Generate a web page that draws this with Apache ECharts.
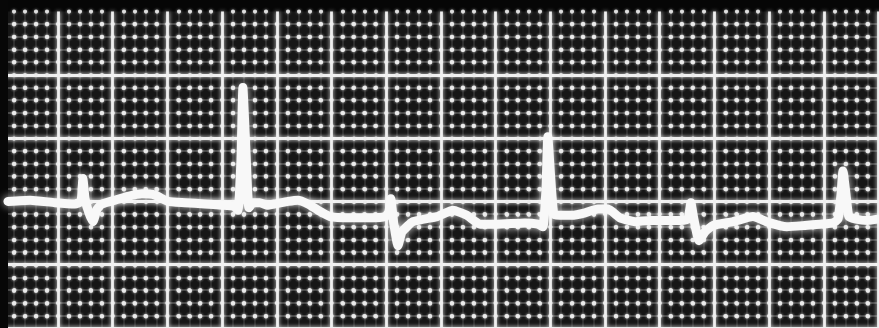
<!DOCTYPE html>
<html><head><meta charset="utf-8">
<script src="https://cdn.jsdelivr.net/npm/echarts@6/dist/echarts.min.js"></script>
<style>html,body{margin:0;padding:0;background:#060606;overflow:hidden}#c{width:879px;height:328px}</style>
</head><body><div id="c"></div>
<script>
// time (ms) — 200 ms per large box
const timeMs = [17,98,189,262,284,291,299,313,328,343,361,408,456,507,555,602,664,737,800,844,858,869,876,887,898,913,938,964,993,1041,1077,1114,1151,1195,1268,1341,1396,1410,1417,1428,1443,1458,1498,1586,1644,1695,1743,1805,1907,1955,1973,1984,1991,2002,2013,2035,2079,2127,2174,2211,2255,2310,2365,2419,2474,2503,2514,2525,2544,2566,2595,2668,2741,2803,2865,2931,2986,3034,3052,3063,3070,3081,3092,3117,3161,3198];
// amplitude (mV) — 0.5 mV per large box
const voltageMv = [1.00,1.01,0.99,0.98,1.00,1.18,1.02,0.91,0.84,0.94,0.98,1.01,1.04,1.06,1.05,1.00,0.99,0.98,0.97,0.96,0.93,1.33,1.90,1.41,0.95,0.99,0.99,0.97,0.98,1.00,1.01,0.98,0.93,0.88,0.87,0.87,0.88,0.92,1.02,0.82,0.65,0.76,0.84,0.88,0.93,0.89,0.82,0.82,0.83,0.82,0.80,1.09,1.51,1.17,0.90,0.89,0.89,0.91,0.94,0.94,0.87,0.84,0.85,0.85,0.85,0.86,0.99,0.86,0.69,0.76,0.81,0.84,0.88,0.83,0.80,0.81,0.82,0.83,0.86,1.06,1.24,1.06,0.88,0.86,0.85,0.86];
const xMin = 0, xMax = 3200, xStep = 200;
const yMin = 0, yMax = 2.5, yStep = 0.5;

const chart = echarts.init(document.getElementById('c'), null, {renderer: 'canvas'});
const hidden = {axisLine:{show:false}, axisTick:{show:false}, axisLabel:{show:false}};
const major = {color:'#efefef', width:2.8, shadowBlur:4, shadowColor:'rgba(255,255,255,0.9)'};
chart.setOption({
  backgroundColor:'#060606',
  animation:false,
  grid:{left:3.3, top:11.5, width:875.2, height:317.5, show:true, backgroundColor:'#161616', borderWidth:0},
  graphic:[{type:'rect', left:0, top:0, shape:{width:8, height:328}, style:{fill:'#070707'}, z:4, silent:true}],
  xAxis:[
    Object.assign({type:'value', min:xMin, max:xMax, interval:xStep, z:3,
      splitLine:{show:true, showMinLine:false, lineStyle:major},
      minorTick:{show:false, splitNumber:5},
      minorSplitLine:{show:true, lineStyle:{color:'rgba(235,235,235,0.9)', width:4.2, type:[0.1,12.6], dashOffset:0, cap:'round', shadowBlur:3, shadowColor:'rgba(255,255,255,0.6)'}}
    }, hidden),
    Object.assign({type:'value', min:xMin, max:xMax, interval:xStep, z:1,
      splitLine:{show:false},
      minorTick:{show:false, splitNumber:5},
      minorSplitLine:{show:true, lineStyle:{color:'rgba(255,255,255,0.14)', width:1.6}}
    }, hidden)
  ],
  yAxis:[
    Object.assign({type:'value', min:yMin, max:yMax, interval:yStep, z:3,
      splitLine:{show:true, showMaxLine:false, lineStyle:major},
      minorTick:{show:false, splitNumber:5},
      minorSplitLine:{show:true, lineStyle:{color:'rgba(235,235,235,0.9)', width:4.2, type:[0.1,10.84], dashOffset:0, cap:'round', shadowBlur:3, shadowColor:'rgba(255,255,255,0.6)'}}
    }, hidden),
    Object.assign({type:'value', min:yMin, max:yMax, interval:yStep, z:1,
      splitLine:{show:false},
      minorTick:{show:false, splitNumber:5},
      minorSplitLine:{show:true, lineStyle:{color:'rgba(255,255,255,0.22)', width:1.8}}
    }, hidden)
  ],
  series:[{
    type:'line', xAxisIndex:0, yAxisIndex:0, z:5,
    showSymbol:false, smooth:0.15,
    data: timeMs.map((t,i)=>[t, voltageMv[i]]),
    lineStyle:{color:'#f8f8f8', width:9, cap:'round', join:'round', shadowBlur:8, shadowColor:'rgba(255,255,255,0.75)'}
  }]
});
</script>
</body></html>
